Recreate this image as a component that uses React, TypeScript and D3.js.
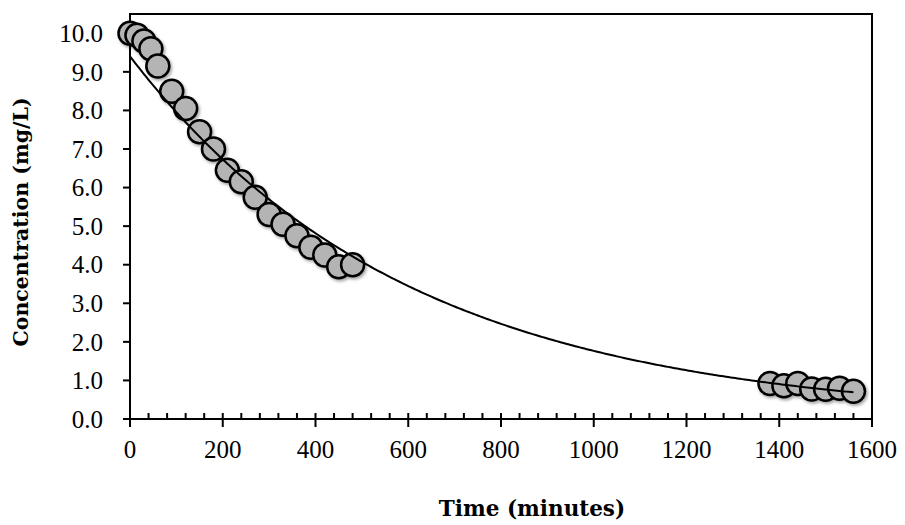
import React from "react";
import * as d3 from "d3";

const times1 = [0, 15, 30, 45, 60, 90, 120, 150, 180, 210, 240, 270, 300, 330, 360, 390, 420, 450, 480];
const conc1 = [10.0, 9.95, 9.8, 9.6, 9.15, 8.5, 8.05, 7.45, 7.0, 6.45, 6.15, 5.75, 5.3, 5.05, 4.75, 4.45, 4.25, 3.95, 4.0];
const times2 = [1380, 1410, 1440, 1470, 1500, 1530, 1560];
const conc2 = [0.92, 0.86, 0.92, 0.78, 0.77, 0.8, 0.72];
const xTicks = [0, 200, 400, 600, 800, 1000, 1200, 1400, 1600];
const yTicks = [0, 1, 2, 3, 4, 5, 6, 7, 8, 9, 10];
const xTitle = "Time (minutes)";
const yTitle = "Concentration (mg/L)";

const W = 905;
const H = 525;
const M = { left: 130, right: 872, top: 14, bottom: 419 };

export default function App() {
  const x = d3.scaleLinear().domain([0, 1600]).range([M.left, M.right]);
  const y = d3.scaleLinear().domain([0, 10.5]).range([M.bottom, M.top]);

  const pts = [
    ...times1.map((t, i) => ({ t, c: conc1[i] })),
    ...times2.map((t, i) => ({ t, c: conc2[i] })),
  ];
  // Exponential least-squares fit (regression of ln C on t), like a spreadsheet trendline
  const mt = d3.mean(pts, (p) => p.t) as number;
  const ml = d3.mean(pts, (p) => Math.log(p.c)) as number;
  const sxy = d3.sum(pts, (p) => (p.t - mt) * (Math.log(p.c) - ml));
  const sxx = d3.sum(pts, (p) => (p.t - mt) ** 2);
  const b = sxy / sxx;
  const a = ml - b * mt;
  const tMax = d3.max(pts, (p) => p.t) as number;
  const curve = d3.range(0, tMax + 1, 5).map((t) => [t, Math.exp(a + b * t)]);
  const line = d3
    .line<number[]>()
    .x((d) => x(d[0]))
    .y((d) => y(d[1]));

  const minor = d3.range(0, 1601, 40).filter((v) => v % 200 !== 0);
  const tickFont = "'Liberation Serif', serif";
  const titleFont = "'DejaVu Serif', serif";

  return (
    <svg
      width={W}
      height={H}
      style={{ position: "absolute", left: 0, top: 0, background: "#fff" }}
    >
      <defs>
        <filter id="sh" x="-50%" y="-50%" width="200%" height="200%">
          <feDropShadow dx="1.5" dy="2" stdDeviation="1.5" floodColor="#000" floodOpacity="0.35" />
        </filter>
      </defs>
      <rect
        x={M.left}
        y={M.top}
        width={M.right - M.left}
        height={M.bottom - M.top}
        fill="none"
        stroke="#000"
        strokeWidth={2}
      />
      {yTicks.map((v) => (
        <g key={"y" + v}>
          <line x1={M.left - 7} x2={M.left} y1={y(v)} y2={y(v)} stroke="#000" strokeWidth={2} />
          <text
            x={M.left - 27}
            y={y(v)}
            dy="0.35em"
            textAnchor="end"
            fontFamily={tickFont}
            fontSize={25}
          >
            {v.toFixed(1)}
          </text>
        </g>
      ))}
      {xTicks.map((v) => (
        <g key={"x" + v}>
          <line x1={x(v)} x2={x(v)} y1={M.bottom - 6} y2={M.bottom + 8} stroke="#000" strokeWidth={2} />
          <text
            x={x(v)}
            y={M.bottom + 30}
            dy="0.35em"
            textAnchor="middle"
            fontFamily={tickFont}
            fontSize={25}
          >
            {v}
          </text>
        </g>
      ))}
      {minor.map((v) => (
        <line key={"m" + v} x1={x(v)} x2={x(v)} y1={M.bottom - 6} y2={M.bottom} stroke="#000" strokeWidth={2} />
      ))}
      <g filter="url(#sh)">
        {pts.map((p, i) => (
          <circle
            key={i}
            cx={x(p.t)}
            cy={y(p.c)}
            r={11.5}
            fill="#b4b4b4"
            stroke="#000"
            strokeWidth={2.5}
          />
        ))}
      </g>
      <path d={line(curve) || ""} fill="none" stroke="#000" strokeWidth={2} />
      <text
        x={532}
        y={516}
        textAnchor="middle"
        fontFamily={titleFont}
        fontWeight="bold"
        fontSize={21.5}
      >
        {xTitle}
      </text>
      <text
        transform={`translate(28, 222) rotate(-90)`}
        textAnchor="middle"
        fontFamily={titleFont}
        fontWeight="bold"
        fontSize={20.5}
      >
        {yTitle}
      </text>
    </svg>
  );
}
